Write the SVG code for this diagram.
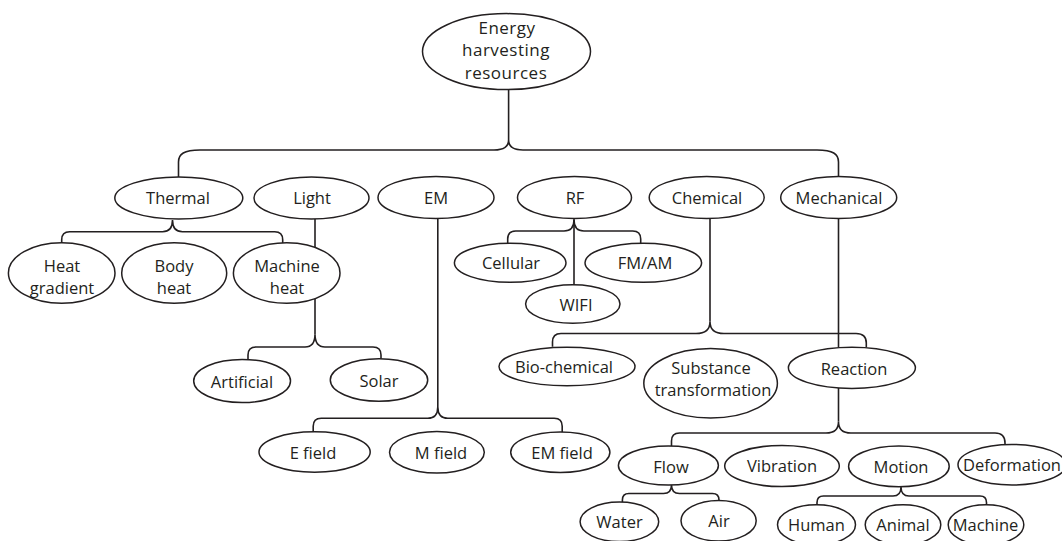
<svg xmlns="http://www.w3.org/2000/svg" width="1062" height="541" viewBox="0 0 1062 541">
<style>
.n ellipse{fill:#fff;stroke:#231f20;stroke-width:1.5}
text{font-family:"Open Sans","Noto Sans",sans-serif;font-size:16.5px;fill:#231f20;text-anchor:middle}
.root text{font-size:17px;letter-spacing:0.5px}
#connectors path{fill:none;stroke:#231f20;stroke-width:1.6}
</style>
<rect width="1062" height="541" fill="#fff"/>
<g id="connectors">
<path d="M508.6,89.6 V140"/>
<path d="M178.5,177 V162 C178.5,154 184,150 200,150 H494 Q508.6,150 508.6,140 Q508.6,150 523,150 H817 C833,150 838.5,154 838.5,162 V177"/>
<path d="M61.7,243 V239.7 Q61.7,231.7 69.7,231.7 H162.5 Q172.5,231.7 172.5,220 Q172.5,231.7 182.5,231.7 H274.7 Q282.7,231.7 282.7,239.7 V243"/>
<path d="M315,218.5 V334.3"/>
<path d="M248,359.7 V355 Q248,347 256,347 H305 Q315,347 315,334.3 Q315,347 325,347 H373 Q381,347 381,355 V358.7"/>
<path d="M437.8,218.5 V407"/>
<path d="M313.2,432 V426.3 Q313.2,418.3 321.2,418.3 H427.8 Q437.8,418.3 437.8,407 Q437.8,418.3 447.8,418.3 H554.2 Q562.2,418.3 562.2,426.3 V432"/>
<path d="M574,218.5 V285"/>
<path d="M507.7,243.3 V239 Q507.7,231 515.7,231 H564 Q574,231 574,220 Q574,231 584,231 H632.7 Q640.7,231 640.7,239 V243.3"/>
<path d="M710,218.5 V321.7"/>
<path d="M552.5,346.7 V342 Q552.5,333.5 561,333.5 H696 Q710,333.5 710,321.7 Q710,333.5 724,333.5 H856 Q866.3,333.5 866.3,343 V347.5"/>
<path d="M838.5,218.5 V347.5"/>
<path d="M838.5,388 V421.7"/>
<path d="M671.5,446 V441 Q671.5,433 679.5,433 H826 Q838.5,433 838.5,421.7 Q838.5,433 851,433 H995 Q1005,433 1005,443 V445"/>
<path d="M622.4,502 V500 Q622.4,493.5 628.9,493.5 H663.5 Q671.5,493.5 671.5,485 Q671.5,493.5 679.5,493.5 H712.5 Q719,493.5 719,500 V502"/>
<path d="M817,505 V502.5 Q817,496 823.5,496 H893 Q901,496 901,487 Q901,496 909,496 H980 Q986.5,496 986.5,502.5 V505"/>
</g>
<g id="root" class="n root"><ellipse cx="506.5" cy="51.6" rx="84" ry="38"/><text x="507" y="33.5">Energy</text><text x="506" y="56">harvesting</text><text x="506" y="78.5">resources</text></g>
<g id="thermal" class="n"><ellipse cx="178.8" cy="198" rx="64" ry="21"/><text x="178" y="204">Thermal</text></g>
<g id="light" class="n"><ellipse cx="311.5" cy="198" rx="57.5" ry="21"/><text x="312" y="204">Light</text></g>
<g id="em" class="n"><ellipse cx="436" cy="197.5" rx="58" ry="21"/><text x="436" y="204">EM</text></g>
<g id="rf" class="n"><ellipse cx="574.5" cy="197.5" rx="57" ry="21"/><text x="575" y="204">RF</text></g>
<g id="chemical" class="n"><ellipse cx="706.7" cy="197.5" rx="57.5" ry="21"/><text x="707" y="204">Chemical</text></g>
<g id="mechanical" class="n"><ellipse cx="838.7" cy="197.5" rx="58" ry="21"/><text x="839" y="204">Mechanical</text></g>
<g id="heat-gradient" class="n"><ellipse cx="61.7" cy="273" rx="53.3" ry="30.3"/><text x="62" y="271.5">Heat</text><text x="62" y="293.5">gradient</text></g>
<g id="body-heat" class="n"><ellipse cx="174.2" cy="273" rx="52.5" ry="30.3"/><text x="174" y="271.5">Body</text><text x="174" y="293.5">heat</text></g>
<g id="machine-heat" class="n"><ellipse cx="286.7" cy="273" rx="53.3" ry="30.3"/><text x="287" y="271.5">Machine</text><text x="287" y="293.5">heat</text></g>
<g id="artificial" class="n"><ellipse cx="242.1" cy="381" rx="48.4" ry="21.5"/><text x="242" y="387.5">Artificial</text></g>
<g id="solar" class="n"><ellipse cx="379" cy="380" rx="48.7" ry="21.3"/><text x="379" y="386.5">Solar</text></g>
<g id="e-field" class="n"><ellipse cx="314.6" cy="452" rx="55.6" ry="20.2"/><text x="313" y="458.5">E field</text></g>
<g id="m-field" class="n"><ellipse cx="436.9" cy="452.3" rx="47.4" ry="20.8"/><text x="441" y="458.5">M field</text></g>
<g id="em-field" class="n"><ellipse cx="560.3" cy="452.2" rx="49.6" ry="20.3"/><text x="562" y="458.5">EM field</text></g>
<g id="cellular" class="n"><ellipse cx="510.2" cy="262.8" rx="55.8" ry="19.5"/><text x="511" y="269">Cellular</text></g>
<g id="fm-am" class="n"><ellipse cx="643.3" cy="262.8" rx="58.3" ry="19.5"/><text x="645" y="269">FM/AM</text></g>
<g id="wifi" class="n"><ellipse cx="572.8" cy="304" rx="47.2" ry="19.2"/><text x="576" y="310.5">WIFI</text></g>
<g id="bio-chemical" class="n"><ellipse cx="567" cy="366.5" rx="68" ry="19.3"/><text x="564" y="373">Bio-chemical</text></g>
<g id="substance" class="n"><ellipse cx="710.6" cy="383.3" rx="66.8" ry="34.7"/><text x="711" y="374">Substance</text><text x="713" y="396">transformation</text></g>
<g id="reaction" class="n"><ellipse cx="851.9" cy="367.8" rx="63.5" ry="20.6"/><text x="854" y="374.5">Reaction</text></g>
<g id="flow" class="n"><ellipse cx="668.4" cy="465.6" rx="50" ry="19.5"/><text x="671" y="472.5">Flow</text></g>
<g id="vibration" class="n"><ellipse cx="782" cy="466" rx="57.3" ry="20.6"/><text x="782" y="472">Vibration</text></g>
<g id="motion" class="n"><ellipse cx="898.9" cy="466.4" rx="50.3" ry="20.3"/><text x="901" y="473">Motion</text></g>
<g id="deformation" class="n"><ellipse cx="1012" cy="464.7" rx="54" ry="20.3"/><text x="1012" y="471">Deformation</text></g>
<g id="water" class="n"><ellipse cx="619.4" cy="521.8" rx="39.3" ry="19.8"/><text x="619.5" y="528">Water</text></g>
<g id="air" class="n"><ellipse cx="718.6" cy="520.7" rx="37.6" ry="20.3"/><text x="719" y="527">Air</text></g>
<g id="human" class="n"><ellipse cx="816.5" cy="524.8" rx="39" ry="20"/><text x="816.5" y="531">Human</text></g>
<g id="animal" class="n"><ellipse cx="903" cy="524.8" rx="37.8" ry="20"/><text x="903" y="531">Animal</text></g>
<g id="machine" class="n"><ellipse cx="986" cy="524.8" rx="37.8" ry="20"/><text x="985.5" y="531">Machine</text></g>
</svg>
